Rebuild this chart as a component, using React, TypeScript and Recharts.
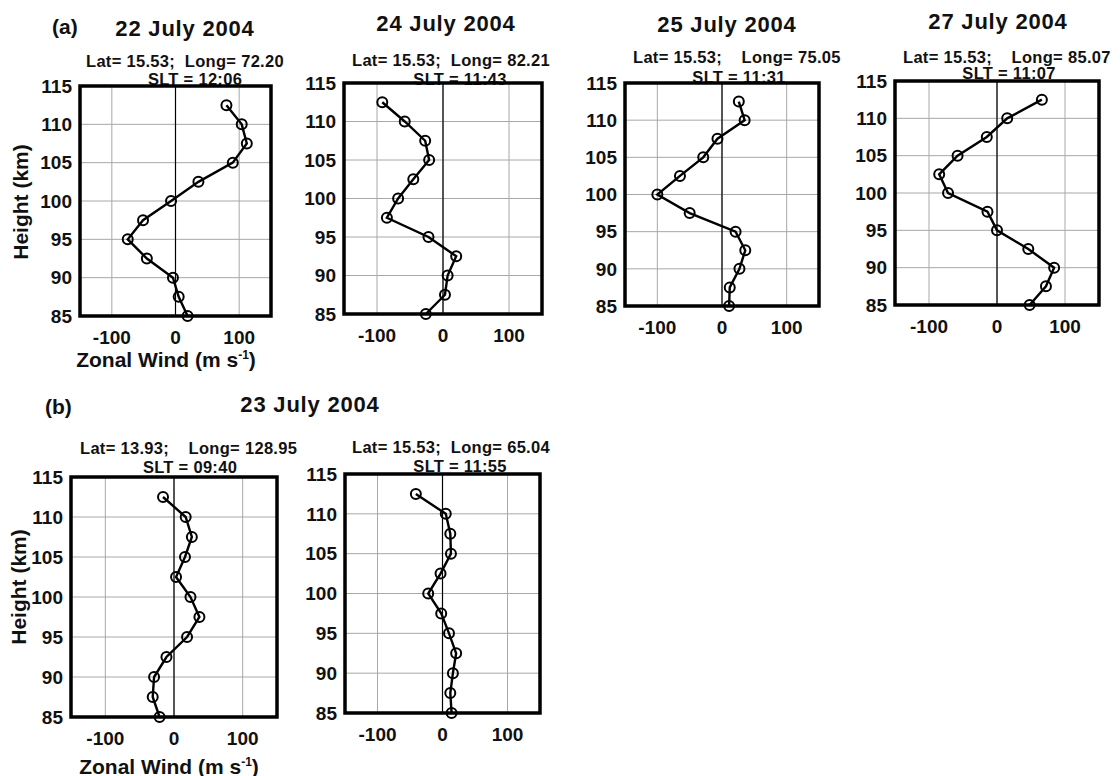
import React from 'react';
import {
  CartesianGrid,
  ReferenceArea,
  ReferenceLine,
  Scatter,
  ScatterChart,
  XAxis,
  YAxis,
} from 'recharts';

const heights = [85, 87.5, 90, 92.5, 95, 97.5, 100, 102.5, 105, 107.5, 110, 112.5];

const wind22Jul = [19, 5, -4, -45, -75, -51, -7, 36, 90, 112, 104, 80];
const wind24Jul = [-26, 3, 7, 20, -22, -85, -68, -45, -21, -27, -58, -92];
const wind25Jul = [11, 12, 27, 36, 21, -50, -100, -65, -29, -7, 35, 26];
const wind27Jul = [48, 72, 84, 46, 0, -14, -72, -85, -58, -15, 15, 66];
const wind23JulA = [-21, -31, -29, -11, 19, 37, 24, 3, 16, 26, 17, -16];
const wind23JulB = [14, 12, 16, 21, 10, -2, -22, -3, 13, 12, 5, -41];

const xTicks = [-100, 0, 100];
const yTicks = [85, 90, 95, 100, 105, 110, 115];

const FONT = '"Liberation Sans", Arial, Helvetica, sans-serif';

interface Box {
  left: number;
  top: number;
  right: number;
  bottom: number;
}

interface PanelProps {
  box: Box;
  winds: number[];
}

const OpenCircle = (p: any) => (
  <circle cx={p.cx} cy={p.cy} r={5} fill="none" stroke="#000" strokeWidth={2} />
);

function Panel({ box, winds }: PanelProps) {
  const data = heights.map((h, i) => ({ h, u: winds[i] }));
  const padL = 60;
  const padT = 10;
  const padR = 10;
  const padB = 40;
  const width = box.right - box.left + padL + padR;
  const height = box.bottom - box.top + padT + padB;
  const tick = { fontSize: 19, fontWeight: 700, fill: '#111', fontFamily: FONT };
  return (
    <div style={{ position: 'absolute', left: box.left - padL, top: box.top - padT }}>
      <ScatterChart
        width={width}
        height={height}
        margin={{ top: padT, right: padR, left: 0, bottom: 0 }}
      >
        <CartesianGrid stroke="#a8a8a8" strokeWidth={1} />
        <XAxis
          type="number"
          dataKey="u"
          domain={[-150, 150]}
          ticks={xTicks}
          tick={tick}
          tickLine={false}
          axisLine={false}
          tickSize={0}
          tickMargin={15}
          height={padB}
          interval={0}
        />
        <YAxis
          type="number"
          dataKey="h"
          domain={[85, 115]}
          ticks={yTicks}
          tick={tick}
          tickLine={false}
          axisLine={false}
          tickSize={0}
          tickMargin={8}
          width={padL}
          interval={0}
        />
        <ReferenceLine x={0} stroke="#000" strokeWidth={1.2} />
        <ReferenceArea x1={-150} x2={150} y1={85} y2={115} fill="none" stroke="#000" strokeWidth={3.5} />
        <Scatter
          data={data}
          line={{ stroke: '#000', strokeWidth: 2.4 }}
          lineType="joint"
          shape={OpenCircle}
          isAnimationActive={false}
        />
      </ScatterChart>
    </div>
  );
}

const Txt = ({
  x,
  y,
  size,
  center,
  spacing,
  children,
}: {
  x: number;
  y: number;
  size: number;
  center?: boolean;
  spacing?: number;
  children: React.ReactNode;
}) => (
  <div
    style={{
      position: 'absolute',
      left: x,
      top: y,
      transform: center ? 'translate(-50%, -50%)' : 'translateY(-50%)',
      fontSize: size,
      fontWeight: 700,
      lineHeight: 1,
      whiteSpace: 'pre',
      letterSpacing: spacing ?? 0,
      color: '#111',
    }}
  >
    {children}
  </div>
);

const WindLabel = ({ x, y }: { x: number; y: number }) => (
  <Txt x={x} y={y} size={21} center>
    Zonal Wind (m s
    <span style={{ fontSize: 12, position: 'relative', top: -8, lineHeight: 0 }}>-1</span>)
  </Txt>
);

const HeightLabel = ({ x, y }: { x: number; y: number }) => (
  <div
    style={{
      position: 'absolute',
      left: x,
      top: y,
      transform: 'translate(-50%, -50%) rotate(-90deg)',
      fontSize: 21,
      fontWeight: 700,
      lineHeight: 1,
      whiteSpace: 'pre',
      color: '#111',
    }}
  >
    Height (km)
  </div>
);

export default function App() {
  return (
    <div
      style={{
        position: 'absolute',
        left: 0,
        top: 0,
        width: 1120,
        height: 776,
        background: '#fff',
        fontFamily: FONT,
        overflow: 'hidden',
      }}
    >
      <Txt x={52} y={26} size={21}>(a)</Txt>

      <Txt x={185} y={29} size={22} spacing={0.8} center>22 July 2004</Txt>
      <Txt x={86} y={61} size={16.5} spacing={0.3}>{'Lat= 15.53;  Long= 72.20'}</Txt>
      <Txt x={195} y={79} size={16.5} spacing={0.3} center>SLT = 12:06</Txt>
      <Panel box={{ left: 80, top: 86, right: 271, bottom: 316 }} winds={wind22Jul} />

      <Txt x={446} y={24} size={22} spacing={0.8} center>24 July 2004</Txt>
      <Txt x={352} y={60} size={16.5} spacing={0.3}>{'Lat= 15.53;  Long= 82.21'}</Txt>
      <Txt x={460} y={79} size={16.5} spacing={0.3} center>SLT = 11:43</Txt>
      <Panel box={{ left: 344, top: 83, right: 542, bottom: 314 }} winds={wind24Jul} />

      <Txt x={727} y={25} size={22} spacing={0.8} center>25 July 2004</Txt>
      <Txt x={633} y={57} size={16.5} spacing={0.3}>{'Lat= 15.53;    Long= 75.05'}</Txt>
      <Txt x={739} y={77} size={16.5} spacing={0.3} center>SLT = 11:31</Txt>
      <Panel box={{ left: 625, top: 83, right: 819, bottom: 306 }} winds={wind25Jul} />

      <Txt x={998} y={22} size={22} spacing={0.8} center>27 July 2004</Txt>
      <Txt x={903} y={57} size={16.5} spacing={0.3}>{'Lat= 15.53;    Long= 85.07'}</Txt>
      <Txt x={1009} y={73} size={16.5} spacing={0.3} center>SLT = 11:07</Txt>
      <Panel box={{ left: 895, top: 81, right: 1099, bottom: 305 }} winds={wind27Jul} />

      <HeightLabel x={20} y={202} />
      <WindLabel x={166} y={359} />

      <Txt x={45} y={406} size={21}>(b)</Txt>
      <Txt x={310} y={405} size={22} spacing={0.8} center>23 July 2004</Txt>

      <Txt x={80} y={448} size={16.5} spacing={0.3}>{'Lat= 13.93;    Long= 128.95'}</Txt>
      <Txt x={190} y={467} size={16.5} spacing={0.3} center>SLT = 09:40</Txt>
      <Panel box={{ left: 71, top: 477, right: 277, bottom: 717 }} winds={wind23JulA} />

      <Txt x={352} y={447} size={16.5} spacing={0.3}>{'Lat= 15.53;  Long= 65.04'}</Txt>
      <Txt x={460} y={466} size={16.5} spacing={0.3} center>SLT = 11:55</Txt>
      <Panel box={{ left: 345, top: 474, right: 540, bottom: 713 }} winds={wind23JulB} />

      <HeightLabel x={18} y={587} />
      <WindLabel x={169} y={766} />
    </div>
  );
}
